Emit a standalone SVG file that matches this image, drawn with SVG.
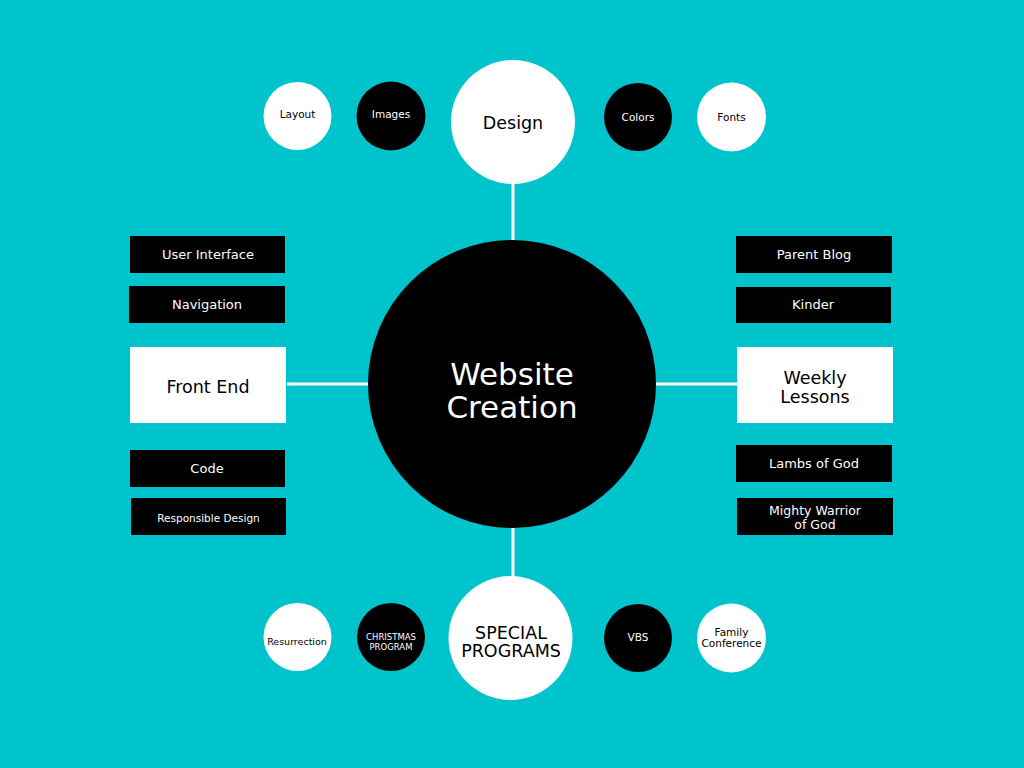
<svg xmlns="http://www.w3.org/2000/svg" width="1024" height="768" viewBox="0 0 1024 768">
<style>
text{font-family:"DejaVu Sans","Liberation Sans",sans-serif;text-anchor:middle}
.w{fill:#ffffff}
.b{fill:#000000}
.tw{fill:#ffffff}
.tb{fill:#000000}
.s11{font-size:10.5px}
.s13{font-size:13px}
.s18{font-size:17.5px}
.s30{font-size:31px}
.conn{stroke:#ffffff;stroke-width:3;fill:none}
</style>
<rect width="1024" height="768" fill="#00C4CC"/>
<g id="connectors">
<line class="conn" x1="513" y1="184" x2="513" y2="241"/>
<line class="conn" x1="513" y1="527" x2="513" y2="577"/>
<line class="conn" x1="287" y1="384" x2="369" y2="384"/>
<line class="conn" x1="655" y1="384" x2="738" y2="384"/>
</g>
<g id="center">
<circle class="b" cx="512" cy="384" r="144"/>
<text class="tw s30" x="512" y="385">Website</text>
<text class="tw s30" x="512" y="418">Creation</text>
</g>
<g id="design">
<circle class="w" cx="513" cy="122" r="62"/>
<text class="tb s18" x="513" y="129">Design</text>
</g>
<g id="layout">
<circle class="w" cx="297.5" cy="116" r="34"/>
<text class="tb s11" x="297.5" y="118">Layout</text>
</g>
<g id="images">
<circle class="b" cx="391" cy="116" r="34.5"/>
<text class="tw s11" x="391" y="118">Images</text>
</g>
<g id="colors">
<circle class="b" cx="638" cy="117" r="34"/>
<text class="tw s11" x="638" y="121">Colors</text>
</g>
<g id="fonts">
<circle class="w" cx="731.5" cy="117" r="34.5"/>
<text class="tb s11" x="731.5" y="121">Fonts</text>
</g>
<g id="user-interface">
<rect class="b" x="130" y="236" width="155" height="37"/>
<text class="tw s13" x="208" y="259">User Interface</text>
</g>
<g id="navigation">
<rect class="b" x="129" y="286" width="156" height="37"/>
<text class="tw s13" x="207" y="309">Navigation</text>
</g>
<g id="front-end">
<rect class="w" x="130" y="347" width="156" height="76"/>
<text class="tb s18" x="208" y="393">Front End</text>
</g>
<g id="code">
<rect class="b" x="130" y="450" width="155" height="37"/>
<text class="tw s13" x="207" y="473">Code</text>
</g>
<g id="responsible-design">
<rect class="b" x="131" y="498" width="155" height="37"/>
<text class="tw s11" x="208.5" y="522">Responsible Design</text>
</g>
<g id="parent-blog">
<rect class="b" x="736" y="236" width="156" height="37"/>
<text class="tw s13" x="814" y="259">Parent Blog</text>
</g>
<g id="kinder">
<rect class="b" x="736" y="287" width="155" height="36"/>
<text class="tw s13" x="813" y="309">Kinder</text>
</g>
<g id="weekly-lessons">
<rect class="w" x="737" y="347" width="156" height="76"/>
<text class="tb s18" x="815" y="384">Weekly</text>
<text class="tb s18" x="815" y="403">Lessons</text>
</g>
<g id="lambs-of-god">
<rect class="b" x="736" y="445" width="156" height="37"/>
<text class="tw s13" x="814" y="468">Lambs of God</text>
</g>
<g id="mighty-warrior">
<rect class="b" x="737" y="498" width="156" height="37"/>
<text class="tw" x="815" y="514.5" style="font-size:12.5px">Mighty Warrior</text>
<text class="tw" x="815" y="529" style="font-size:12.5px">of God</text>
</g>
<g id="special-programs">
<circle class="w" cx="510.5" cy="638" r="62"/>
<text class="tb s18" x="511" y="639">SPECIAL</text>
<text class="tb s18" x="511" y="657">PROGRAMS</text>
</g>
<g id="resurrection">
<circle class="w" cx="297.5" cy="637" r="34"/>
<text class="tb" x="297" y="645" style="font-size:9.5px">Resurrection</text>
</g>
<g id="christmas-program">
<circle class="b" cx="391" cy="637" r="34"/>
<text class="tw" x="391" y="640" style="font-size:8.5px">CHRISTMAS</text>
<text class="tw" x="391" y="650" style="font-size:8.5px">PROGRAM</text>
</g>
<g id="vbs">
<circle class="b" cx="638" cy="638" r="34"/>
<text class="tw s11" x="638" y="641">VBS</text>
</g>
<g id="family-conference">
<circle class="w" cx="731.5" cy="638" r="34.5"/>
<text class="tb s11" x="731.5" y="636">Family</text>
<text class="tb s11" x="731.5" y="647">Conference</text>
</g>
</svg>
